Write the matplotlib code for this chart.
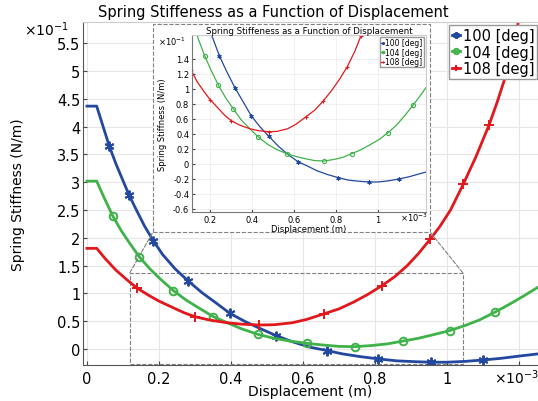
import matplotlib
matplotlib.use("Agg")
import matplotlib.pyplot as plt
from matplotlib.patches import Rectangle, ConnectionPatch
from matplotlib.ticker import FuncFormatter
import numpy as np

# values; x in 1e-3 m, y in 1e-1 N/m
x_100 = [0, 0.027, 0.045, 0.062, 0.08, 0.10, 0.117, 0.135, 0.16, 0.184, 0.21, 0.245,
         0.28, 0.32, 0.36, 0.397, 0.44, 0.48, 0.525, 0.57, 0.62, 0.667, 0.71, 0.76,
         0.809, 0.86, 0.91, 0.956, 1.00, 1.05, 1.10, 1.15, 1.20, 1.253]
y_100 = [4.37, 4.37, 4.00, 3.65, 3.34, 3.03, 2.77, 2.53, 2.21, 1.95, 1.70, 1.44,
         1.23, 1.01, 0.82, 0.64, 0.49, 0.37, 0.24, 0.13, 0.03, -0.03, -0.09, -0.14,
         -0.18, -0.215, -0.23, -0.24, -0.24, -0.225, -0.20, -0.17, -0.13, -0.09]
mk_100 = [0.062, 0.117, 0.184, 0.28, 0.397, 0.525, 0.667, 0.809, 0.956, 1.10]

x_104 = [0, 0.027, 0.045, 0.071, 0.095, 0.12, 0.145, 0.175, 0.205, 0.24, 0.275, 0.31,
         0.351, 0.39, 0.43, 0.476, 0.52, 0.565, 0.61, 0.655, 0.70, 0.744, 0.79, 0.835,
         0.877, 0.92, 0.965, 1.008, 1.05, 1.09, 1.133, 1.17, 1.21, 1.253]
y_104 = [3.02, 3.02, 2.76, 2.40, 2.13, 1.89, 1.66, 1.44, 1.25, 1.05, 0.88, 0.74,
         0.58, 0.47, 0.36, 0.26, 0.19, 0.14, 0.10, 0.07, 0.045, 0.04, 0.06, 0.09,
         0.14, 0.19, 0.26, 0.33, 0.42, 0.52, 0.66, 0.79, 0.94, 1.11]
mk_104 = [0.071, 0.145, 0.24, 0.351, 0.476, 0.61, 0.744, 0.877, 1.008, 1.133]

x_108 = [0, 0.027, 0.05, 0.08, 0.11, 0.138, 0.17, 0.20, 0.24, 0.27, 0.30, 0.34,
         0.39, 0.43, 0.479, 0.52, 0.57, 0.61, 0.658, 0.70, 0.74, 0.78, 0.82, 0.855,
         0.89, 0.92, 0.953, 0.98, 1.01, 1.045, 1.08, 1.117, 1.14, 1.165, 1.185, 1.198,
         1.215]
y_108 = [1.81, 1.81, 1.63, 1.42, 1.25, 1.10, 0.97, 0.86, 0.74, 0.65, 0.58, 0.52,
         0.47, 0.445, 0.43, 0.435, 0.47, 0.53, 0.63, 0.72, 0.84, 0.98, 1.14, 1.30,
         1.50, 1.71, 1.97, 2.20, 2.50, 2.96, 3.45, 4.03, 4.45, 4.95, 5.45, 5.88,
         6.30]
mk_108 = [0.138, 0.30, 0.479, 0.658, 0.82, 0.953, 1.045, 1.117]

labels = ["100 [deg]", "104 [deg]", "108 [deg]"]
colors = ["#2348a0", "#3fb24a", "#e2181c"]
markers = [(6, 2, 0), "o", "+"]

# region shown in the inset
zoom_x = (0.119, 1.044)
zoom_y = (-0.27, 1.37)

W, H = 538, 402


def fig_box(l, t, r, b):
    return [l / W, 1 - b / H, (r - l) / W, (b - t) / H]


def fmt(v, pos):
    return "%g" % round(v, 3)


series = [(x_100, y_100, mk_100), (x_104, y_104, mk_104), (x_108, y_108, mk_108)]

fig = plt.figure(figsize=(W / 100, H / 100), dpi=100)
ax = fig.add_axes(fig_box(83, 22.7, 538, 366))

for (xs, ys, mk), lab, c, m in zip(series, labels, colors, markers):
    mfc = "none" if m == "o" else c
    idx = [xs.index(v) for v in mk]
    ms = 7 if m != "o" else 5.5
    ax.plot(xs, ys, color=c, lw=2.0, marker=m, markevery=idx, ms=ms, mfc=mfc,
            mew=1.4, label=lab)

ax.set_xlim(-0.011, 1.253)
ax.set_ylim(-0.29, 5.89)
ax.set_xticks([0, 0.2, 0.4, 0.6, 0.8, 1.0, 1.2])
ax.set_yticks(np.arange(0, 5.6, 0.5))
ax.xaxis.set_major_formatter(FuncFormatter(lambda v, p: "" if v > 1.1 else fmt(v, p)))
ax.yaxis.set_major_formatter(FuncFormatter(fmt))
ax.tick_params(direction="in", labelsize=10.5, length=3, color="#444444", pad=4)
ax.tick_params(axis="y", pad=2)
ax.grid(True, color="#e6e6e6", lw=0.8)
ax.set_axisbelow(True)
for s in ["left", "bottom"]:
    ax.spines[s].set_color("#555555")
ax.spines["top"].set_color("#cccccc")
ax.spines["right"].set_visible(False)
ax.set_title("Spring Stiffeness as a Function of Displacement", fontsize=10.5, pad=4,
             x=0.418)
ax.set_xlabel("Displacement (m)", fontsize=10)
ax.set_ylabel("Spring Stiffness (N/m)", fontsize=10)
ax.xaxis.set_label_coords(0.5, -0.056)
ax.yaxis.set_label_coords(-0.128, 0.5)
fig.text(46 / W, 1 - 30 / H, r"$\times10^{-1}$", ha="center", va="center", fontsize=10)
fig.text(516 / W, 1 - 378 / H, r"$\times10^{-3}$", ha="center", va="center", fontsize=10)

leg = ax.legend(loc="upper right", bbox_to_anchor=(0.998, 0.99), fontsize=10.5,
                handlelength=0.6, handletextpad=0.15, borderpad=0.2, labelspacing=0.1,
                framealpha=1, fancybox=False, edgecolor="#999999", borderaxespad=0,
                markerscale=0.7)

# zoom box on the main axes
ax.add_patch(Rectangle((zoom_x[0], zoom_y[0]), zoom_x[1] - zoom_x[0], zoom_y[1] - zoom_y[0],
                       fill=False, ls="--", lw=0.8, ec="#808080", zorder=1.5))

# white dashed frame behind the inset
frame = fig_box(153, 25, 430, 233)
fr = Rectangle((frame[0], frame[1]), frame[2], frame[3], transform=fig.transFigure,
               fc="white", ec="#808080", ls="--", lw=0.8, zorder=3)
fig.add_artist(fr)
for xz, xf in [(zoom_x[0], frame[0]), (zoom_x[1], frame[0] + frame[2])]:
    con = ConnectionPatch(xyA=(xz, zoom_y[1]), coordsA=ax.transData,
                          xyB=(xf, frame[1]), coordsB=fig.transFigure,
                          ls="--", lw=0.8, color="#808080", zorder=3)
    fig.add_artist(con)

ins = fig.add_axes(fig_box(192, 36, 426, 213), zorder=4)
for (xs, ys, mk), lab, c, m in zip(series, labels, colors, markers):
    mfc = "none" if m == "o" else c
    ins.plot(xs, ys, color=c, lw=0.9, marker=m, markevery=(0.05, 0.12), ms=3, mfc=mfc,
             mew=0.8, label=lab)
ins.set_xlim(0.114, 1.23)
ins.set_ylim(-0.64, 1.72)
ins.set_xticks([0.2, 0.4, 0.6, 0.8, 1.0])
ins.set_yticks(np.arange(-0.6, 1.5, 0.2))
ins.xaxis.set_major_formatter(FuncFormatter(fmt))
ins.yaxis.set_major_formatter(FuncFormatter(fmt))
ins.tick_params(direction="in", labelsize=6, length=2, color="#444444", pad=2)
ins.grid(True, color="#eeeeee", lw=0.6)
ins.set_axisbelow(True)
for s in ["left", "bottom"]:
    ins.spines[s].set_color("#777777")
for s in ["top", "right"]:
    ins.spines[s].set_color("#cccccc")
ins.set_title("Spring Stiffeness as a Function of Displacement", fontsize=6.2, pad=1)
ins.set_xlabel("Displacement (m)", fontsize=6, labelpad=0)
ins.set_ylabel("Spring Stiffness (N/m)", fontsize=6, labelpad=4)
fig.text(172 / W, 1 - 42 / H, r"$\times10^{-1}$", ha="center", va="center", fontsize=6,
         zorder=5)
fig.text(414 / W, 1 - 218 / H, r"$\times10^{-3}$", ha="center", va="center", fontsize=6,
         zorder=5)
ins.legend(loc="upper right", fontsize=5.5, handlelength=0.3, handletextpad=0.2,
           borderpad=0.15, labelspacing=0.05, framealpha=1, fancybox=False,
           edgecolor="#999999", borderaxespad=0.3, markerscale=0.6)

fig.savefig("out.png", dpi=100)
